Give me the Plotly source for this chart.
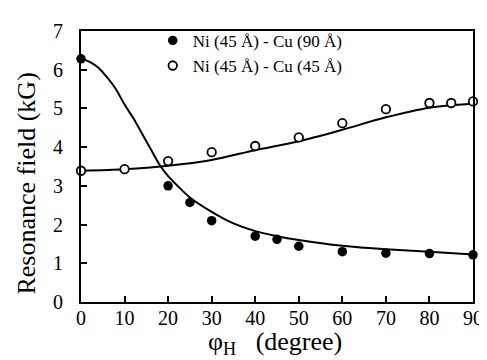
import plotly.graph_objects as go

# Measured data points
phi_cu90 = [0, 20, 25, 30, 40, 45, 50, 60, 70, 80, 90]
field_cu90 = [6.28, 3.0, 2.57, 2.1, 1.7, 1.62, 1.44, 1.3, 1.26, 1.25, 1.22]

phi_cu45 = [0, 10, 20, 30, 40, 50, 60, 70, 80, 85, 90]
field_cu45 = [3.39, 3.43, 3.64, 3.87, 4.03, 4.25, 4.62, 4.98, 5.14, 5.14, 5.18]

# Fitted curves
fit_phi_cu90 = [0, 2, 4, 6, 8, 10, 12, 14, 16, 18, 20, 25, 30, 35, 40, 45, 50, 60, 70, 80, 90]
fit_field_cu90 = [6.3, 6.2, 6.05, 5.8, 5.5, 5.1, 4.75, 4.35, 3.95, 3.55, 3.25, 2.7, 2.33,
                  2.03, 1.83, 1.7, 1.6, 1.45, 1.36, 1.3, 1.23]

fit_phi_cu45 = [0, 10, 20, 30, 40, 50, 60, 70, 80, 90]
fit_field_cu45 = [3.39, 3.43, 3.52, 3.67, 3.92, 4.15, 4.45, 4.77, 5.02, 5.12]

x_ticks = [0, 10, 20, 30, 40, 50, 60, 70, 80, 90]
y_ticks = [0, 1, 2, 3, 4, 5, 6, 7]

label_cu90 = "Ni (45 Å) - Cu (90 Å)"
label_cu45 = "Ni (45 Å) - Cu (45 Å)"
x_title = "φ<sub>H</sub>&nbsp;&nbsp;&nbsp;(degree)"
y_title = "Resonance field (kG)"

FONT = "Liberation Serif"

fig = go.Figure()
fig.add_trace(go.Scatter(x=fit_phi_cu90, y=fit_field_cu90, mode="lines",
                         line=dict(color="black", width=2, shape="spline", smoothing=0.6),
                         showlegend=False, hoverinfo="skip"))
fig.add_trace(go.Scatter(x=fit_phi_cu45, y=fit_field_cu45, mode="lines",
                         line=dict(color="black", width=2, shape="spline", smoothing=0.8),
                         showlegend=False, hoverinfo="skip"))
fig.add_trace(go.Scatter(x=phi_cu90, y=field_cu90, mode="markers", name=label_cu90,
                         marker=dict(symbol="circle", size=9.5, color="black"),
                         cliponaxis=False))
fig.add_trace(go.Scatter(x=phi_cu45, y=field_cu45, mode="markers", name=label_cu45,
                         marker=dict(symbol="circle", size=8.5, color="white",
                                     line=dict(color="black", width=1.8)),
                         cliponaxis=False))

fig.update_layout(
    width=487, height=360,
    margin=dict(l=73, r=14, t=14, b=66),
    paper_bgcolor="white", plot_bgcolor="white",
    font=dict(family=FONT, color="black", size=17),
    legend=dict(x=0.183, y=1.03, xanchor="left", yanchor="top",
                bgcolor="rgba(0,0,0,0)", font=dict(family=FONT, size=17),
                itemsizing="trace", tracegroupgap=0),
    showlegend=True,
    annotations=[
        dict(text=y_title, textangle=-90, xref="paper", yref="paper",
             x=-0.14, y=0.4375, xanchor="center", yanchor="middle", showarrow=False,
             font=dict(family=FONT, size=26, color="black")),
        dict(text=x_title, xref="paper", yref="paper",
             x=0.495, y=-0.15, xanchor="center", yanchor="middle", showarrow=False,
             font=dict(family=FONT, size=26, color="black")),
    ],
)
fig.update_xaxes(range=[0, 90], tickvals=x_ticks, ticks="inside", ticklen=6, tickwidth=1.5,
                 tickcolor="black", showline=True, linecolor="black", linewidth=2,
                 mirror=True, showgrid=False, zeroline=False, ticklabelstandoff=-3,
                 tickfont=dict(family=FONT, size=20))
fig.update_yaxes(range=[0, 7], tickvals=y_ticks, ticks="inside", ticklen=6, tickwidth=1.5,
                 tickcolor="black", showline=True, linecolor="black", linewidth=2,
                 mirror=True, showgrid=False, zeroline=False, ticklabelstandoff=12,
                 tickfont=dict(family=FONT, size=20))

fig.write_html("out.html")
